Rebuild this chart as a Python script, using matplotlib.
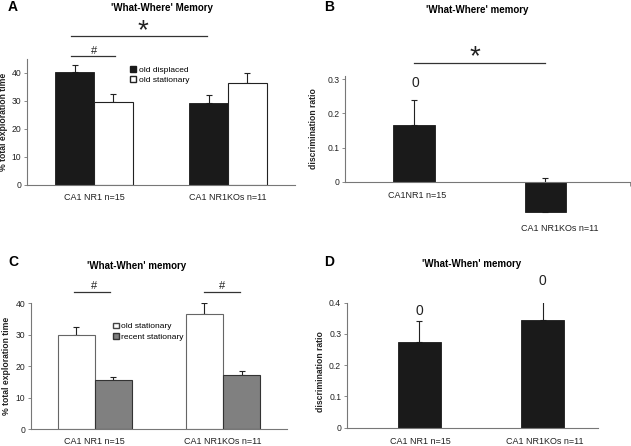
import matplotlib
matplotlib.use("Agg")
import matplotlib.pyplot as plt
from matplotlib.patches import Patch

plt.rcParams['font.family'] = ['Liberation Sans', 'DejaVu Sans']

groups_a = ["CA1 NR1 n=15", "CA1 NR1KOs n=11"]
a_displaced = [40.3, 29.2]
a_displaced_err = [2.3, 2.7]
a_stationary = [29.6, 36.5]
a_stationary_err = [2.9, 3.5]

groups_b = ["CA1NR1 n=15", "CA1 NR1KOs n=11"]
b_ratio = [0.167, -0.088]
b_ratio_err = [0.071, 0.098]

groups_c = ["CA1 NR1 n=15", "CA1 NR1KOs n=11"]
c_old = [29.8, 36.6]
c_old_err = [2.7, 3.6]
c_recent = [15.5, 17.2]
c_recent_err = [1.2, 1.4]

groups_d = ["CA1 NR1 n=15", "CA1 NR1KOs n=11"]
d_ratio = [0.275, 0.346]
d_ratio_err = [0.065, 0.089]

W, H = 631, 446
fig = plt.figure(figsize=(W / 100, H / 100), dpi=100)


def px_axes(left, top, right, bottom):
    return fig.add_axes([left / W, 1 - bottom / H, (right - left) / W, (bottom - top) / H])


def ftext(x, y, s, **kw):
    fig.text(x / W, 1 - y / H, s, **kw)


def style(ax):
    for s in ['top', 'right']:
        ax.spines[s].set_visible(False)
    for s in ['left', 'bottom']:
        ax.spines[s].set_color('#777777')
        ax.spines[s].set_linewidth(0.8)
    ax.tick_params(axis='y', labelsize=6.2, length=2.5, width=0.6, color='#777777', pad=1.5,
                   labelcolor='#222222')
    ax.tick_params(axis='x', which='both', length=0, labelbottom=False)


def cat_ticks(ax, right):
    ax.set_xticks([0.5, right], minor=True)
    ax.tick_params(axis='x', which='minor', length=3, width=0.6, color='#777777', direction='out')


ekw = dict(fmt='none', ecolor='#222222', elinewidth=0.8, capsize=2.2, capthick=0.8)
lab = dict(fontsize=6.5, ha='center', va='center', color='#222222')

# ---------------- A ----------------
ax = px_axes(27, 59.3, 295, 184.7)
x = [0, 1]
w = 0.29
xa = [i - w / 2 for i in x]
xb = [i + w / 2 for i in x]
ax.bar(xa, a_displaced, w, color='#1a1a1a', edgecolor='#1a1a1a', linewidth=0.6, zorder=2)
ax.bar(xb, a_stationary, w, color='white', edgecolor='#222222', linewidth=0.8, zorder=2)
ax.errorbar(xa, a_displaced, yerr=[[0, 0], a_displaced_err], zorder=1, **ekw)
ax.errorbar(xb, a_stationary, yerr=[[0, 0], a_stationary_err], zorder=1, **ekw)
ax.set_xlim(-0.5, 1.5)
ax.set_ylim(0, 44.8)
ax.set_yticks([0, 10, 20, 30, 40])
style(ax)
cat_ticks(ax, 1.5)
ax.set_ylabel("% total exploration time", fontsize=6.2, fontweight='bold', labelpad=3, color='#222222')
ax.plot([-0.17, 0.84], [53, 53], color='#333333', lw=0.9, clip_on=False)
ax.plot([-0.17, 0.16], [45.9, 45.9], color='#333333', lw=0.9, clip_on=False)
ax.legend(handles=[Patch(facecolor='#1a1a1a', edgecolor='#1a1a1a', label='old displaced'),
                   Patch(facecolor='white', edgecolor='#222222', label='old stationary')],
          loc='upper left', bbox_to_anchor=(0.37, 0.98), frameon=False, fontsize=6,
          handlelength=0.7, handleheight=0.7, handletextpad=0.3, labelspacing=0.3,
          borderpad=0)
for i, g in zip(x, groups_a):
    ftext(27 + 134 * (i + 0.5), 197, g, **lab)
ftext(162, 8, "'What-Where' Memory", fontsize=7, fontweight='bold', ha='center', va='center')
ftext(13, 7, "A", fontsize=10, fontweight='bold', ha='center', va='center')
ftext(143, 31, "*", fontsize=20, ha='center', va='center', color='#222222')
ftext(94, 51, "#", fontsize=8, ha='center', va='center', color='#222222')

# ---------------- B ----------------
ax = px_axes(345, 75.7, 630, 215.9)
xbp = [0, 1]
ax.errorbar(xbp, b_ratio, yerr=[[0, 0], b_ratio_err], zorder=1, **ekw)
ax.bar(xbp, b_ratio, 0.32, color='#1a1a1a', edgecolor='#1a1a1a', linewidth=0.6, zorder=2)
ax.set_xlim(-0.53, 1.645)
ax.set_ylim(-0.1, 0.31)
ax.set_yticks([0, 0.1, 0.2, 0.3])
ax.set_yticklabels(['0', '0.1', '0.2', '0.3'])
style(ax)
ax.spines['bottom'].set_position(('data', 0))
ax.spines['left'].set_bounds(0, 0.31)
ax.set_xticks([1.645], minor=True)
ax.tick_params(axis='x', which='minor', length=3, width=0.6, color='#777777', direction='out')
ax.plot([0, 1], [0.346, 0.346], color='#333333', lw=0.9, clip_on=False)
ax.set_ylabel("discrimination ratio", fontsize=6.2, fontweight='bold', labelpad=3, color='#222222')
ax.yaxis.set_label_coords(-0.095, 0.62)
ftext(417, 195, groups_b[0], **lab)
ftext(560, 228, groups_b[1], **lab)
ftext(415, 83, "0", fontsize=10, ha='center', va='center', color='#222222')
ftext(477, 10, "'What-Where' memory", fontsize=7, fontweight='bold', ha='center', va='center')
ftext(329, 7, "B", fontsize=10, fontweight='bold', ha='center', va='center')
ftext(475, 57, "*", fontsize=20, ha='center', va='center', color='#222222')

# ---------------- C ----------------
ax = px_axes(30.7, 303.3, 287, 429.3)
ax.bar(xa, c_old, w, color='white', edgecolor='#666666', linewidth=0.8, zorder=2)
ax.bar(xb, c_recent, w, color='#808080', edgecolor='#333333', linewidth=0.8, zorder=2)
ax.errorbar(xa, c_old, yerr=[[0, 0], c_old_err], zorder=1, **ekw)
ax.errorbar(xb, c_recent, yerr=[[0, 0], c_recent_err], zorder=1, **ekw)
ax.set_xlim(-0.5, 1.5)
ax.set_ylim(0, 40)
ax.set_yticks([0, 10, 20, 30, 40])
style(ax)
cat_ticks(ax, 1.5)
ax.set_ylabel("% total exploration time", fontsize=6.2, fontweight='bold', labelpad=3, color='#222222')
ax.plot([-0.16, 0.12], [43.6, 43.6], color='#333333', lw=0.9, clip_on=False)
ax.plot([0.85, 1.13], [43.6, 43.6], color='#333333', lw=0.9, clip_on=False)
ax.legend(handles=[Patch(facecolor='white', edgecolor='#444444', label='old stationary'),
                   Patch(facecolor='#808080', edgecolor='#333333', label='recent stationary')],
          loc='upper left', bbox_to_anchor=(0.305, 0.88), frameon=False, fontsize=6,
          handlelength=0.7, handleheight=0.7, handletextpad=0.3, labelspacing=0.3,
          borderpad=0)
for i, g in zip(x, groups_c):
    ftext(30.7 + 128 * (i + 0.5), 441, g, **lab)
ftext(137, 266, "'What-When' memory", fontsize=7, fontweight='bold', ha='center', va='center')
ftext(13, 262, "C", fontsize=10, fontweight='bold', ha='center', va='center')
ftext(94, 286, "#", fontsize=8, ha='center', va='center', color='#222222')
ftext(222, 286, "#", fontsize=8, ha='center', va='center', color='#222222')

# ---------------- D ----------------
ax = px_axes(346.7, 302.7, 598, 427.7)
xd = [0, 1]
ax.bar(xd, d_ratio, 0.35, color='#1a1a1a', edgecolor='#1a1a1a', linewidth=0.6, zorder=2)
ax.errorbar(xd, d_ratio, yerr=[[0, 0], d_ratio_err], zorder=1, **ekw)
ax.set_xlim(-0.59, 1.45)
ax.set_ylim(0, 0.4)
ax.set_yticks([0, 0.1, 0.2, 0.3, 0.4])
ax.set_yticklabels(['0', '0.1', '0.2', '0.3', '0.4'])
style(ax)
ax.set_ylabel("discrimination ratio", fontsize=6.2, fontweight='bold', labelpad=3, color='#222222')
ax.yaxis.set_label_coords(-0.085, 0.45)
ftext(420, 441, groups_d[0], **lab)
ftext(545, 441, groups_d[1], **lab)
for i, (v, e) in enumerate(zip(d_ratio, d_ratio_err)):
    ax.text(i, v + e + 0.035, "0", fontsize=10, ha='center', va='center', color='#222222')
ftext(472, 264, "'What-When' memory", fontsize=7, fontweight='bold', ha='center', va='center')
ftext(329, 262, "D", fontsize=10, fontweight='bold', ha='center', va='center')

fig.savefig("out.png", dpi=100)
